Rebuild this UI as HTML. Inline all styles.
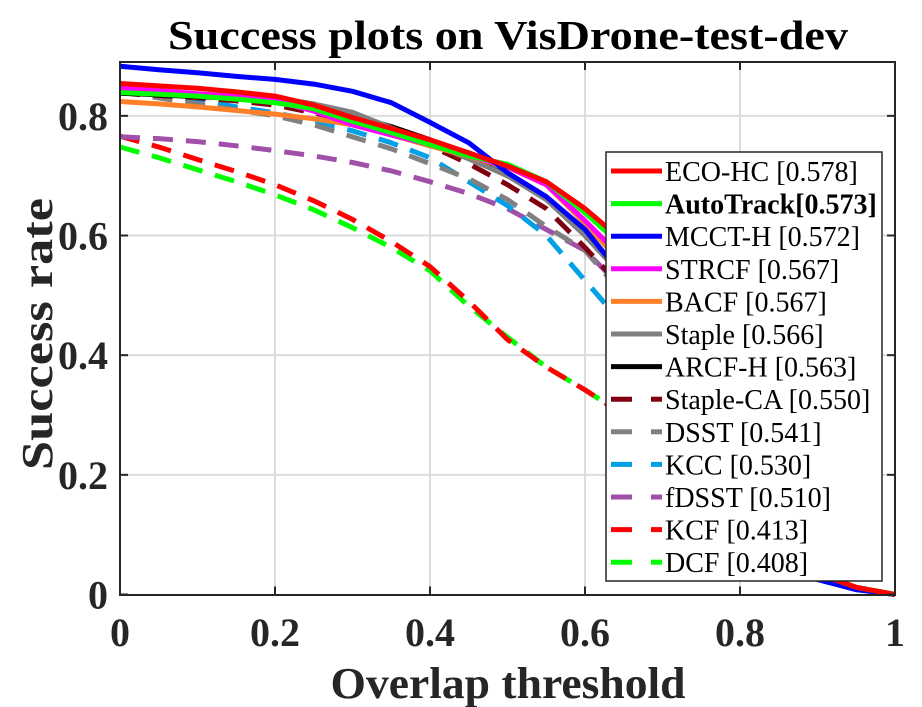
<!DOCTYPE html>
<html><head><meta charset="utf-8"><style>
body{margin:0;background:#fff}
svg{display:block;font-family:"Liberation Serif",serif}
</style></head><body>
<svg id="chart" width="922" height="707" viewBox="0 0 922 707" xmlns="http://www.w3.org/2000/svg">
<rect width="922" height="707" fill="#fff"/>
<g id="grid"></g>
<g id="series"></g>
<rect x="120" y="62" width="775" height="533" fill="none" stroke="#262626" stroke-width="2"/>
<g id="ticks" font-weight="bold" font-size="40" fill="#262626"></g>
<text x="508" y="49" text-anchor="middle" font-weight="bold" font-size="41" fill="#000" textLength="680" lengthAdjust="spacingAndGlyphs">Success plots on VisDrone-test-dev</text>
<text x="508" y="698" text-anchor="middle" font-weight="bold" font-size="44" fill="#262626" textLength="355" lengthAdjust="spacingAndGlyphs">Overlap threshold</text>
<text transform="translate(52,334) rotate(-90)" text-anchor="middle" font-weight="bold" font-size="44" fill="#262626" textLength="272" lengthAdjust="spacingAndGlyphs">Success rate</text>
<g id="legend"></g>
</svg>
<script>
const thresholds=[0,.05,.1,.15,.2,.25,.3,.35,.4,.45,.5,.55,.6,.65,.7,.75,.8,.85,.9,.95,1];
const xTicks=[0,0.2,0.4,0.6,0.8,1];
const yTicks=[0,0.2,0.4,0.6,0.8];
const xTickLabels=["0","0.2","0.4","0.6","0.8","1"];
const yTickLabels=["0","0.2","0.4","0.6","0.8"];
const names=["ECO-HC [0.578]","AutoTrack[0.573]","MCCT-H [0.572]","STRCF [0.567]","BACF [0.567]","Staple [0.566]","ARCF-H [0.563]","Staple-CA [0.550]","DSST [0.541]","KCC [0.530]","fDSST [0.510]","KCF [0.413]","DCF [0.408]"];
const colors=["#ff0000","#00ff00","#0000ff","#ff00ff","#ff8028","#808080","#000000","#800010","#808080","#00a0e6","#a050a8","#ff0000","#00ff00"];
const dashed=[false,false,false,false,false,false,false,true,true,true,true,true,true];
const ecoHC=[.854,.850,.846,.840,.833,.818,.797,.779,.760,.738,.716,.690,.645,.59,.49,.37,.24,.12,.035,.012,0];
const autoTrack=[.839,.836,.833,.828,.822,.812,.791,.772,.752,.733,.719,.69,.638,.58,.48,.36,.235,.12,.035,.012,0];
const mcctH=[.883,.877,.872,.866,.861,.853,.841,.822,.789,.755,.705,.665,.61,.53,.42,.3,.18,.08,.025,.008,0];
const strcf=[.846,.842,.837,.832,.825,.808,.785,.768,.752,.733,.715,.685,.625,.56,.46,.34,.22,.11,.03,.01,0];
const bacf=[.824,.82,.815,.809,.803,.795,.785,.768,.75,.732,.714,.685,.62,.55,.45,.33,.21,.1,.03,.01,0];
const staple=[.84,.838,.836,.834,.83,.82,.806,.78,.755,.728,.70,.66,.60,.53,.43,.32,.2,.1,.03,.01,0];
const arcfH=[.838,.835,.832,.829,.825,.815,.80,.782,.76,.73,.70,.662,.60,.53,.43,.31,.2,.1,.03,.01,0];
const stapleCA=[.838,.834,.83,.825,.818,.805,.79,.772,.75,.72,.685,.645,.58,.51,.41,.3,.19,.09,.03,.01,0];
const dsst=[.84,.83,.82,.81,.80,.785,.765,.745,.72,.695,.66,.615,.575,.5,.4,.29,.18,.09,.03,.01,0];
const kcc=[.845,.835,.826,.815,.805,.792,.775,.755,.73,.69,.65,.60,.525,.45,.36,.26,.16,.08,.025,.008,0];
const fdsst=[.765,.762,.757,.75,.742,.733,.722,.708,.69,.67,.645,.61,.575,.51,.41,.3,.19,.09,.03,.01,0];
const kcf=[.766,.748,.727,.707,.685,.658,.627,.59,.548,.49,.426,.38,.342,.30,.25,.19,.13,.08,.035,.012,0];
const dcf=[.748,.73,.71,.69,.668,.643,.613,.58,.541,.482,.43,.38,.342,.30,.25,.19,.13,.08,.035,.012,0];
const allSeries=[ecoHC,autoTrack,mcctH,strcf,bacf,staple,arcfH,stapleCA,dsst,kcc,fdsst,kcf,dcf];
const seriesIds=["eco-hc","autotrack","mcct-h","strcf","bacf","staple","arcf-h","staple-ca","dsst","kcc","fdsst","kcf","dcf"];

const X0=120,X1=895,Y0=594.5,YMAX=0.89,YTOP=62;
const xs=v=>X0+v*(X1-X0);
const ys=v=>Y0-v/YMAX*(Y0-YTOP);
const NS="http://www.w3.org/2000/svg";
function mk(tag,attrs,parent){const e=document.createElementNS(NS,tag);for(const k in attrs)e.setAttribute(k,attrs[k]);parent.appendChild(e);return e;}
const grid=document.getElementById('grid'),ticks=document.getElementById('ticks');
xTicks.forEach((t,i)=>{
  if(t>0&&t<1){const g=mk('line',{x1:xs(t),x2:xs(t),y1:YTOP,y2:Y0,stroke:'#dcdcdc','stroke-width':2},grid);
  
  }
  const tk=mk('line',{x1:xs(t),x2:xs(t),y1:Y0,y2:Y0-8,stroke:'#262626','stroke-width':2},ticks);
  
  
  const tk2=mk('line',{x1:xs(t),x2:xs(t),y1:YTOP,y2:YTOP+8,stroke:'#262626','stroke-width':2},ticks);
  
  
  const tx=mk('text',{x:xs(t),y:646,'text-anchor':'middle'},ticks);tx.textContent=xTickLabels[i];
  if(xTickLabels[i].length>1){tx.setAttribute('textLength','50');tx.setAttribute('lengthAdjust','spacingAndGlyphs');}
  
  
});
yTicks.forEach((t,i)=>{
  if(t>0){const g=mk('line',{x1:X0,x2:X1,y1:ys(t),y2:ys(t),stroke:'#dcdcdc','stroke-width':2},grid);
  
  }
  const tk=mk('line',{x1:X0,x2:X0+8,y1:ys(t),y2:ys(t),stroke:'#262626','stroke-width':2},ticks);
  
  
  const tk2=mk('line',{x1:X1,x2:X1-8,y1:ys(t),y2:ys(t),stroke:'#262626','stroke-width':2},ticks);
  
  
  const tx=mk('text',{x:108,y:ys(t)+14,'text-anchor':'end'},ticks);tx.textContent=yTickLabels[i];
  if(yTickLabels[i].length>1){tx.setAttribute('textLength','50');tx.setAttribute('lengthAdjust','spacingAndGlyphs');}
  
  
});
const sg=document.getElementById('series');
for(let k=allSeries.length-1;k>=0;k--){
  const pts=allSeries[k].map((v,i)=>xs(thresholds[i]).toFixed(1)+','+ys(v).toFixed(1)).join(' ');
  const p=mk('polyline',{points:pts,fill:'none',stroke:colors[k],'stroke-width':5,'stroke-linejoin':'round'},sg);
  if(dashed[k])p.setAttribute('stroke-dasharray','20 13');
  
  
}
const lg=document.getElementById('legend');
const box=mk('rect',{x:606,y:152,width:276,height:429,fill:'#fff',stroke:'#262626','stroke-width':1.5},lg);


names.forEach((n,k)=>{
  const cy=171+k*32.6;
  const g=mk('g',{},lg);
  
  
  if(dashed[k]){mk('line',{x1:611,x2:632,y1:cy,y2:cy,stroke:colors[k],'stroke-width':5},g);mk('line',{x1:651,x2:662,y1:cy,y2:cy,stroke:colors[k],'stroke-width':5},g);}
  else mk('line',{x1:611,x2:662,y1:cy,y2:cy,stroke:colors[k],'stroke-width':5},g);
  const t=mk('text',{x:665,y:cy+10,'font-size':28,fill:'#000'},g);
  if(k===1)t.setAttribute('font-weight','bold');
  t.textContent=n;
});
</script>
</body></html>
